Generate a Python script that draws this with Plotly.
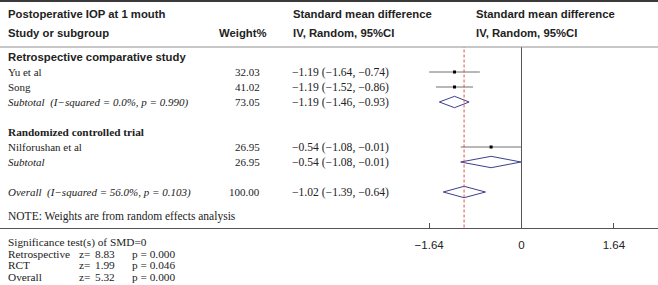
import plotly.graph_objects as go

# ---------------- data ----------------
studies = ["Yu et al", "Song", "Nilforushan et al"]
study_rows = [1, 2, 6]
smd = [-1.19, -1.19, -0.54]
ci_lo = [-1.64, -1.52, -1.08]
ci_hi = [-0.74, -0.86, -0.01]
weights = [32.03, 41.02, 26.95]

pooled_labels = ["Subtotal  (I\u2212squared = 0.0%, p = 0.990)", "Subtotal", "Overall  (I\u2212squared = 56.0%, p = 0.103)"]
pooled_rows = [3, 7, 9]
pooled_est = [-1.19, -0.54, -1.02]
pooled_lo = [-1.46, -1.08, -1.39]
pooled_hi = [-0.93, -0.01, -0.64]
pooled_w = [73.05, 26.95, 100.00]

group_labels = ["Retrospective comparative study", "Randomized controlled trial"]
group_rows = [0, 5]

tick_vals = [-1.64, 0, 1.64]
tick_text = ["\u22121.64", "0", "1.64"]

sig_labels = ["Retrospective", "RCT", "Overall"]
sig_z = [8.83, 1.99, 5.32]
sig_p = ["0.000", "0.046", "0.000"]

# ---------------- layout helpers ----------------
W, H = 658, 285
def px(x):
    return x / W
def py(y):
    return 1 - y / H

ROW0, PITCH = 57.0, 15.0      # pixel y of row 0, row pitch
TOP, BOT = 47.0, 227.5        # plot band in pixels
ZERO_X, UNIT = 521.5, 56.3    # pixel x of 0, pixels per unit

y_range = [(BOT - ROW0) / PITCH, (TOP - ROW0) / PITCH]
x_range = [-ZERO_X / UNIT, (W - ZERO_X) / UNIT]

def fmt(v):
    return ("%.2f" % v).replace("-", "\u2212")

SANS = "Liberation Sans, Arial, sans-serif"
SERIF = "Liberation Serif, Times New Roman, serif"
TXT = "#222222"

fig = go.Figure()

# study CIs
for e, lo, hi, r in zip(smd, ci_lo, ci_hi, study_rows):
    fig.add_trace(go.Scatter(x=[lo, hi], y=[r, r], mode="lines",
                             line=dict(color="#707070", width=1), hoverinfo="skip"))
fig.add_trace(go.Scatter(x=smd, y=study_rows, mode="markers",
                         marker=dict(symbol="square", size=3, color="black"), hoverinfo="skip"))

# diamonds
HALF = 0.38
for e, lo, hi, r in zip(pooled_est, pooled_lo, pooled_hi, pooled_rows):
    fig.add_trace(go.Scatter(x=[lo, e, hi, e, lo], y=[r, r - HALF, r, r + HALF, r],
                             mode="lines", line=dict(color="#3b3f8f", width=1), hoverinfo="skip"))

shapes = []
# zero line
shapes.append(dict(type="line", xref="x", yref="y domain", x0=0, x1=0, y0=0, y1=1,
                   line=dict(color="#555555", width=1)))
# overall effect dashed line
shapes.append(dict(type="line", xref="x", yref="y domain", x0=pooled_est[2], x1=pooled_est[2], y0=0, y1=1,
                   line=dict(color="#d9534f", width=1, dash="3px,2px")))
# top border
shapes.append(dict(type="line", xref="paper", yref="paper", x0=0, x1=1, y0=py(1), y1=py(1),
                   line=dict(color="#3a3a3a", width=2)))
# header separator
shapes.append(dict(type="line", xref="paper", yref="paper", x0=0, x1=1, y0=py(TOP), y1=py(TOP),
                   line=dict(color="#8f8f8f", width=1)))

ann = []
def A(text, x, y, yref="paper", anchor="left", font=SERIF, size=11, bold=False, italic=False):
    t = text
    if bold:
        t = "<b>" + t + "</b>"
    if italic:
        t = "<i>" + t + "</i>"
    ann.append(dict(text=t, x=px(x), xref="paper", y=(py(y) if yref == "paper" else y), yref=yref,
                    xanchor=anchor, yanchor="middle", showarrow=False,
                    font=dict(family=font, size=size, color=TXT)))

# headers
A("Postoperative IOP at 1 mouth", 6, 14, font=SANS, bold=True, size=11.3)
A("Study or subgroup", 6, 33, font=SANS, bold=True, size=11.3)
A("Weight%", 269, 33, anchor="right", font=SANS, bold=True, size=11.3)
A("Standard mean difference", 291, 14, font=SANS, bold=True, size=11.3)
A("IV, Random, 95%CI", 291, 33, font=SANS, bold=True, size=11.3)
A("Standard mean difference", 474, 14, font=SANS, bold=True, size=11.3)
A("IV, Random, 95%CI", 474, 33, font=SANS, bold=True, size=11.3)

# group headings
A(group_labels[0], 6, group_rows[0], yref="y", font=SANS, bold=True, size=11.3)
A(group_labels[1], 6, group_rows[1], yref="y", font=SERIF, bold=True, size=11.3)

# studies
for name, r, w, e, lo, hi in zip(studies, study_rows, weights, smd, ci_lo, ci_hi):
    A(name, 6, r, yref="y")
    A("%.2f" % w, 262, r, yref="y", anchor="right")
    A("%s (%s, %s)" % (fmt(e), fmt(lo), fmt(hi)), 290, r, yref="y", size=11.6)

# pooled
for lab, r, w, e, lo, hi in zip(pooled_labels, pooled_rows, pooled_w, pooled_est, pooled_lo, pooled_hi):
    A(lab, 6, r, yref="y", italic=True)
    A("%.2f" % w, 262, r, yref="y", anchor="right")
    A("%s (%s, %s)" % (fmt(e), fmt(lo), fmt(hi)), 290, r, yref="y", size=11.6)

A("NOTE: Weights are from random effects analysis", 6, 216, size=11.5)

# significance tests
A("Significance test(s) of SMD=0", 6, 242, size=11.3)
for i, (lab, z, p) in enumerate(zip(sig_labels, sig_z, sig_p)):
    yy = 253.5 + i * 11.6
    A(lab, 6, yy, size=11.3)
    A("z=", 77, yy, size=11.3)
    A("%.2f" % z, 117, yy, anchor="right", size=11.3)
    A("p = %s" % p, 130, yy, size=11.3)

fig.update_layout(
    width=W, height=H, margin=dict(l=0, r=0, t=0, b=0),
    paper_bgcolor="white", plot_bgcolor="white", showlegend=False,
    shapes=shapes, annotations=ann,
    xaxis=dict(domain=[0, 1], range=x_range, showgrid=False, zeroline=False,
               showline=True, linecolor="#555555", linewidth=1,
               ticks="inside", ticklen=5, tickcolor="#555555",
               tickvals=tick_vals, ticktext=tick_text, ticklabelstandoff=7,
               tickfont=dict(family=SANS, size=11.5, color=TXT), fixedrange=True),
    yaxis=dict(domain=[py(BOT), py(TOP)], range=y_range, visible=False, fixedrange=True),
)

fig.write_html("out.html", config={"displayModeBar": False},
               post_script="document.body.style.margin='0';")
